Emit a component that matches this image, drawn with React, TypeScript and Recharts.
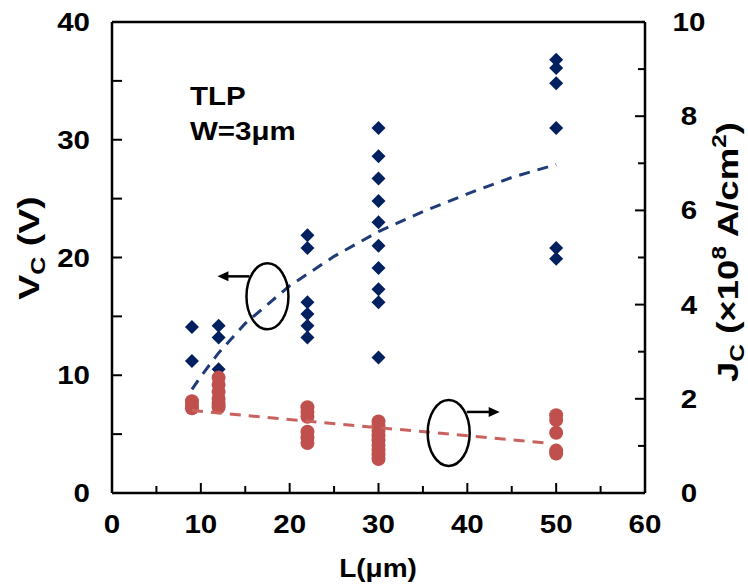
import React from 'react'
import {
  ComposedChart,
  Scatter,
  XAxis,
  YAxis,
  ReferenceLine,
  ReferenceDot,
  Customized,
} from 'recharts'

// channel lengths (µm) where devices were measured
const L_VALUES = [9, 12, 22, 30, 50]

// V_C (V) readings, one list per length
const VC_BY_L = [
  [14.1, 11.2],
  [14.2, 13.2, 10.5],
  [21.9, 20.8, 16.2, 15.2, 14.2, 13.2],
  [31.0, 28.6, 26.7, 24.8, 23.0, 21.0, 19.1, 17.3, 16.2, 11.5],
  [36.8, 36.1, 34.8, 31.0, 20.8, 19.9],
]

// J_C (x1e8 A/cm2) readings, one list per length
const JC_BY_L = [
  [1.95, 1.87, 1.8],
  [2.45, 2.3, 2.15, 2.0, 1.9, 1.82],
  [1.82, 1.72, 1.62, 1.3, 1.18, 1.06],
  [1.52, 1.42, 1.32, 1.22, 1.12, 1.02, 0.92, 0.82, 0.72],
  [1.65, 1.55, 1.28, 0.9, 0.84],
]

// dashed trend lines
const VC_FIT_L = [9, 10, 12, 15, 20, 25, 30, 35, 40, 45, 50]
const VC_FIT = [8.8, 9.9, 11.9, 14.4, 17.6, 20.1, 22.2, 23.9, 25.4, 26.8, 27.9]
const JC_FIT_L = [9, 49]
const JC_FIT = [1.75, 1.06]

const X_TICKS = [0, 5, 10, 15, 20, 25, 30, 35, 40, 45, 50, 55, 60]
const VC_TICKS = [0, 5, 10, 15, 20, 25, 30, 35, 40]
const JC_TICKS = [0, 1, 2, 3, 4, 5, 6, 7, 8, 9, 10]

const vcData = L_VALUES.flatMap((l, i) => VC_BY_L[i].map((v) => ({ l, v })))
const jcData = L_VALUES.flatMap((l, i) => JC_BY_L[i].map((v) => ({ l, v })))
const vcFit = VC_FIT_L.map((l, i) => ({ l, v: VC_FIT[i] }))
const jcFit = JC_FIT_L.map((l, i) => ({ l, v: JC_FIT[i] }))

const FONT = '"Liberation Sans", Arial, sans-serif'
const BLUE = '#002060'
const RED = '#C0504D'

const txt = { fontFamily: FONT, fontWeight: 700, fontSize: 25, fill: '#000' }

// the source figure is a bit stretched sideways, so text gets scaled in x
function SText({ x, y, anchor = 'start', sx = 1.18, size = 25, children }: any) {
  return (
    <text
      transform={`translate(${x},${y}) scale(${sx},1)`}
      textAnchor={anchor}
      style={{ ...txt, fontSize: size }}
    >
      {children}
    </text>
  )
}

function XTick(props: any) {
  const { x, y, payload } = props
  const major = payload.value % 10 === 0
  return (
    <g>
      <line x1={x} x2={x} y1={y} y2={y - (major ? 10 : 7)} stroke="#000" strokeWidth={2} />
      {major && (
        <SText x={x} y={y + 40} anchor="middle">
          {payload.value}
        </SText>
      )}
    </g>
  )
}

function LeftTick(props: any) {
  const { x, y, payload } = props
  const major = payload.value % 10 === 0
  return (
    <g>
      <line x1={x} x2={x + 10} y1={y} y2={y} stroke="#000" strokeWidth={2} />
      {major && (
        <SText x={x - 22} y={y + 9} anchor="end">
          {payload.value}
        </SText>
      )}
    </g>
  )
}

function RightTick(props: any) {
  const { x, y, payload } = props
  const major = payload.value % 2 === 0
  return (
    <g>
      <line x1={x} x2={x - (major ? 10 : 7)} y1={y} y2={y} stroke="#000" strokeWidth={2} />
      {major && (
        <SText x={x + 44} y={y + 9} anchor="middle">
          {payload.value}
        </SText>
      )}
    </g>
  )
}

function Diamond(props: any) {
  const { cx, cy } = props
  const r = 7
  return <path d={`M${cx},${cy - r}L${cx + r},${cy}L${cx},${cy + r}L${cx - r},${cy}Z`} fill={BLUE} />
}

function Dot(props: any) {
  const { cx, cy } = props
  return <circle cx={cx} cy={cy} r={7} fill={RED} />
}

const NoShape = () => <g />

function EllipseLeft(props: any) {
  const { cx, cy } = props
  return (
    <g>
      <ellipse cx={cx} cy={cy} rx={21} ry={33} fill="none" stroke="#000" strokeWidth={2.5} />
      <line x1={cx - 18} x2={cx - 40} y1={cy - 20} y2={cy - 20} stroke="#000" strokeWidth={2.5} />
      <path d={`M${cx - 50},${cy - 20}L${cx - 39},${cy - 25}L${cx - 39},${cy - 15}Z`} fill="#000" />
    </g>
  )
}

function EllipseRight(props: any) {
  const { cx, cy } = props
  return (
    <g>
      <ellipse cx={cx} cy={cy} rx={21} ry={33} fill="none" stroke="#000" strokeWidth={2.5} />
      <line x1={cx + 18} x2={cx + 41} y1={cy - 21} y2={cy - 21} stroke="#000" strokeWidth={2.5} />
      <path d={`M${cx + 51},${cy - 21}L${cx + 40},${cy - 26}L${cx + 40},${cy - 16}Z`} fill="#000" />
    </g>
  )
}

function Titles() {
  const rot = { ...txt, fontSize: 30 }
  return (
    <g>
      <text transform="translate(39,248) rotate(-90) scale(1.25,1)" textAnchor="middle" style={rot}>
        V<tspan fontSize={20} dy={6}>C</tspan>
        <tspan dy={-6}> (V)</tspan>
      </text>
      <text transform="translate(738,252) rotate(-90) scale(1.22,1)" textAnchor="middle" style={rot}>
        J<tspan fontSize={20} dy={6}>C</tspan>
        <tspan dy={-6}> (×10</tspan>
        <tspan fontSize={20} dy={-12}>8</tspan>
        <tspan dy={12}> A/cm</tspan>
        <tspan fontSize={20} dy={-12}>2</tspan>
        <tspan dy={12}>)</tspan>
      </text>
      <SText x={378} y={577} anchor="middle" sx={1.12}>
        L(μm)
      </SText>
      <SText x={190} y={105}>TLP</SText>
      <SText x={190} y={140}>W=3μm</SText>
    </g>
  )
}

export default function App() {
  return (
    <div style={{ position: 'absolute', left: 0, top: 0, background: '#fff' }}>
      <ComposedChart width={748} height={588} margin={{ top: 22, right: 0, bottom: 0, left: 0 }}>
        <XAxis
          dataKey="l"
          type="number"
          domain={[0, 60]}
          ticks={X_TICKS}
          interval={0}
          height={95}
          tickSize={0}
          tickMargin={0}
          tick={<XTick />}
          axisLine={{ stroke: '#000', strokeWidth: 2.5 }}
          tickLine={false}
          allowDataOverflow
        />
        <YAxis
          yAxisId="left"
          type="number"
          domain={[0, 40]}
          ticks={VC_TICKS}
          interval={0}
          width={112}
          tickSize={0}
          tickMargin={0}
          tick={<LeftTick />}
          axisLine={{ stroke: '#000', strokeWidth: 2.5 }}
          tickLine={false}
          allowDataOverflow
        />
        <YAxis
          yAxisId="right"
          orientation="right"
          type="number"
          domain={[0, 10]}
          ticks={JC_TICKS}
          interval={0}
          width={103}
          tickSize={0}
          tickMargin={0}
          tick={<RightTick />}
          axisLine={{ stroke: '#000', strokeWidth: 2.5 }}
          tickLine={false}
          allowDataOverflow
        />
        <ReferenceLine yAxisId="left" y={40} stroke="#000" strokeWidth={2.5} />
        <Scatter yAxisId="left" data={vcData} dataKey="v" shape={<Diamond />} isAnimationActive={false} />
        <Scatter yAxisId="right" data={jcData} dataKey="v" shape={<Dot />} isAnimationActive={false} />
        <Scatter
          yAxisId="left"
          data={vcFit}
          dataKey="v"
          shape={<NoShape />}
          line={{ stroke: '#1F3B78', strokeWidth: 3, strokeDasharray: '11 8' }}
          isAnimationActive={false}
        />
        <Scatter
          yAxisId="right"
          data={jcFit}
          dataKey="v"
          shape={<NoShape />}
          line={{ stroke: '#C9625F', strokeWidth: 3, strokeDasharray: '11 8' }}
          isAnimationActive={false}
        />
        <ReferenceDot yAxisId="left" x={17.5} y={16.7} r={0} shape={<EllipseLeft />} />
        <ReferenceDot yAxisId="left" x={37.9} y={5.1} r={0} shape={<EllipseRight />} />
        <Customized component={Titles} />
      </ComposedChart>
    </div>
  )
}
